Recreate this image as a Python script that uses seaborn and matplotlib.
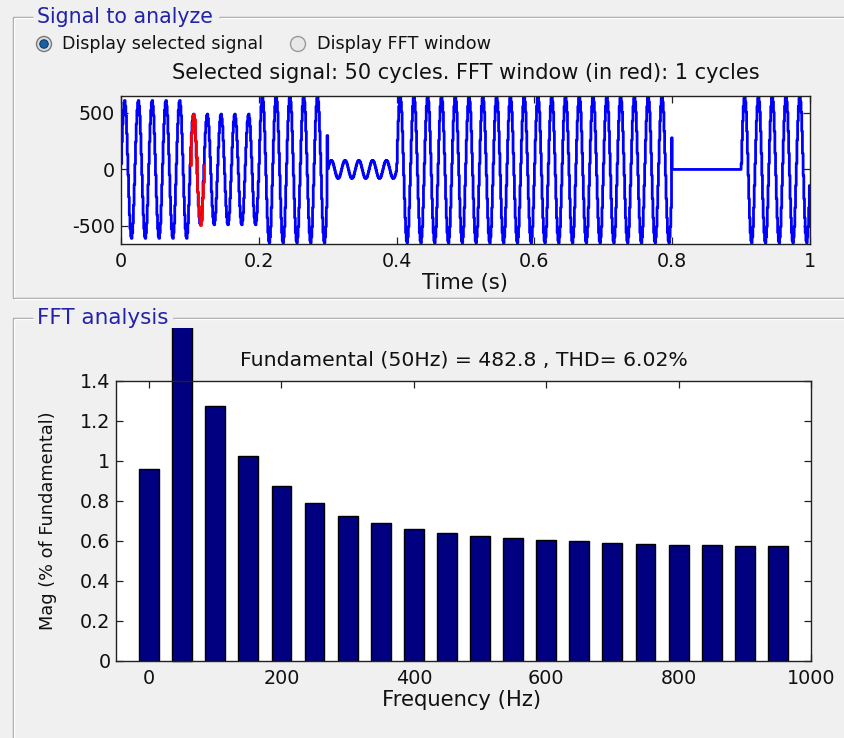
import matplotlib
matplotlib.use("Agg")
import matplotlib.pyplot as plt
import seaborn as sns
import pandas as pd
from matplotlib.transforms import Bbox
from matplotlib.patches import Circle

# ------------------------------------------------------------------ data
# one cycle (20 samples of 1 ms) of the stepped waveform, normalised
cycle_pattern = [0.08, 0.40, 0.66, 0.86, 0.97, 1.00, 0.92, 0.78, 0.52, 0.22,
                 -0.08, -0.40, -0.66, -0.86, -0.97, -1.00, -0.92, -0.78, -0.52, -0.22]
# peak amplitude of each of the 50 cycles
cycle_amplitude = [610, 610, 610, 610, 610,
                   490, 490, 490, 490, 490,
                   650, 650, 650, 650, 650,
                   80, 80, 80, 80, 80,
                   650, 650, 650, 650, 650, 650, 650, 650, 650, 650,
                   650, 650, 650, 650, 650, 650, 650, 650, 650, 650,
                   0, 0, 0, 0, 0,
                   650, 650, 650, 650, 650]
spike_ms = [299, 799]
spike_value = [300, 280]
fft_window_cycle = 5

freq_hz = [0, 50, 100, 150, 200, 250, 300, 350, 400, 450,
           500, 550, 600, 650, 700, 750, 800, 850, 900, 950]
mag_pct = [0.96, 100.0, 1.275, 1.025, 0.875, 0.79, 0.725, 0.69, 0.66, 0.64,
           0.625, 0.615, 0.605, 0.60, 0.59, 0.585, 0.58, 0.58, 0.575, 0.575]

time_ticks = [0, 0.2, 0.4, 0.6, 0.8, 1]
time_ticklabels = ["0", "0.2", "0.4", "0.6", "0.8", "1"]
sig_ticks = [-500, 0, 500]
sig_ticklabels = ["-500", "0", "500"]
freq_ticks = [0, 200, 400, 600, 800, 1000]
mag_ticks = [0, 0.2, 0.4, 0.6, 0.8, 1.0, 1.2, 1.4]
mag_ticklabels = ["0", "0.2", "0.4", "0.6", "0.8", "1", "1.2", "1.4"]

# ------------------------------------------------------------------ build signal table
n_per = len(cycle_pattern)
t_vals, y_vals = [], []
for c, amp in enumerate(cycle_amplitude):
    for k, lv in enumerate(cycle_pattern):
        t_vals.append((c * n_per + k) / 1000.0)
        y_vals.append(amp * lv)
for i, v in zip(spike_ms, spike_value):
    y_vals[i] = v
t_vals.append(len(cycle_amplitude) * n_per / 1000.0)
y_vals.append(y_vals[-1])
sig = pd.DataFrame({"t": t_vals, "v": y_vals})
i0 = fft_window_cycle * n_per
win = sig.iloc[i0:i0 + n_per + 1]
fft = pd.DataFrame({"freq": freq_hz, "mag": mag_pct})

# ------------------------------------------------------------------ figure
sns.set_style("ticks")
plt.rcParams["font.family"] = ["DejaVu Sans"]
plt.rcParams["axes.unicode_minus"] = False
W, H = 845, 738
BG = "#f0f0f0"
fig = plt.figure(figsize=(W / 100, H / 100), dpi=100, facecolor=BG)

# overlay in pixel coordinates for the GUI frames
ov = fig.add_axes([0, 0, 1, 1], zorder=0)
ov.set_xlim(0, W)
ov.set_ylim(H, 0)
ov.axis("off")

def etched(xs, ys):
    ov.plot(xs, ys, color="#a0a0a0", lw=1.0, solid_capstyle="butt")
    ov.plot([x + 1 for x in xs], [y + 1 for y in ys], color="white", lw=1.0,
            solid_capstyle="butt")

# top panel
etched([13, 13], [17, 298])
etched([13, 33], [17, 17])
etched([219, 845], [17, 17])
etched([13, 845], [298, 298])
# bottom panel
etched([13, 13], [318, 738])
etched([13, 33], [318, 318])
etched([173, 845], [318, 318])

blue_title = "#2222aa"
ov.text(37, 17, "Signal to analyze", color=blue_title, fontsize=14.8,
        va="center", ha="left")
ov.text(37, 318, "FFT analysis", color=blue_title, fontsize=15.5,
        va="center", ha="left")

# radio buttons
ov.add_patch(Circle((44, 44), 7.5, facecolor="#dcdcdc", edgecolor="#7a7a7a", lw=1))
ov.add_patch(Circle((44, 44), 4.2, facecolor="#1d5fa3", edgecolor="#0c3c70", lw=0.8))
ov.add_patch(Circle((298, 44), 7.5, facecolor="#e8e8e8", edgecolor="#9a9a9a", lw=1))
ov.text(62, 44, "Display selected signal", fontsize=12.5, color="#111111",
        va="center", ha="left")
ov.text(317, 44, "Display FFT window", fontsize=12.7, color="#111111",
        va="center", ha="left")

FS = 13.8
FL = 15.2

def px_axes(l, r, t, b):
    return fig.add_axes([l / W, 1 - b / H, (r - l) / W, (b - t) / H], zorder=2)

def style(ax):
    ax.set_facecolor("white")
    for s in ax.spines.values():
        s.set_visible(True)
        s.set_color("#222222")
        s.set_linewidth(1.0)
    ax.tick_params(direction="in", top=True, right=True, length=5, width=0.9,
                   labelsize=FS, colors="#222222", labelcolor="#111111")

# ------------------------------------------------------------------ signal axes
ax1 = px_axes(121, 810, 96, 244)
style(ax1)
sns.lineplot(data=sig, x="t", y="v", ax=ax1, color="#0000ff", lw=2.0,
             drawstyle="steps-post", estimator=None, sort=False)
sns.lineplot(data=win, x="t", y="v", ax=ax1, color="#ff0000", lw=2.0,
             drawstyle="steps-post", estimator=None, sort=False)
ax1.set_xlim(0, 1)
ax1.set_ylim(-660, 650)
ax1.set_xticks(time_ticks)
ax1.set_xticklabels(time_ticklabels)
ax1.set_yticks(sig_ticks)
ax1.set_yticklabels(sig_ticklabels)
ax1.tick_params(axis="x", pad=5.5)
ax1.tick_params(axis="y", pad=4.5)
ax1.set_xlabel("Time (s)", fontsize=FL, color="#111111")
ax1.set_ylabel("")
ax1.xaxis.set_label_coords((465 - 121) / 689, (244 - 283) / 148)
ax1.xaxis.label.set_va("center")
ax1.set_title("Selected signal: 50 cycles. FFT window (in red): 1 cycles",
              fontsize=15.0, color="#111111", pad=12)

# ------------------------------------------------------------------ FFT axes
ax2 = px_axes(116, 811, 381, 661)
style(ax2)
sns.barplot(data=fft, x="freq", y="mag", ax=ax2, native_scale=True, width=0.6,
            color="#000080", saturation=1, edgecolor="black", linewidth=1.0)
ax2.set_xlim(-50, 1000)
ax2.set_ylim(0, 1.4)
ax2.set_xticks(freq_ticks)
ax2.set_xticklabels([str(f) for f in freq_ticks])
ax2.set_yticks(mag_ticks)
ax2.set_yticklabels(mag_ticklabels)
ax2.tick_params(axis="x", pad=6)
ax2.tick_params(axis="y", pad=4)
ax2.set_xlabel("Frequency (Hz)", fontsize=FL, color="#111111")
ax2.xaxis.set_label_coords((462 - 116) / 695, (661 - 700) / 280)
ax2.xaxis.label.set_va("center")
ax2.set_ylabel("Mag (% of Fundamental)", fontsize=FS - 1, color="#111111")
ax2.yaxis.set_label_coords((48 - 116) / 695, (661 - 521) / 280)
ax2.yaxis.label.set_va("center")
ax2.set_title("Fundamental (50Hz) = 482.8 , THD= 6.02%", fontsize=14.7,
              color="#111111", pad=11)

# the fundamental bar runs out of the axes and is cut by the panel edge
clip = Bbox.from_extents(0, 0, W, H - 328)
for p in ax2.patches:
    if p.get_height() > 1.4:
        p.set_clip_path(None)
        p.set_clip_box(clip)
        p.set_clip_on(True)

fig.savefig("out.png", dpi=100, facecolor=BG)
